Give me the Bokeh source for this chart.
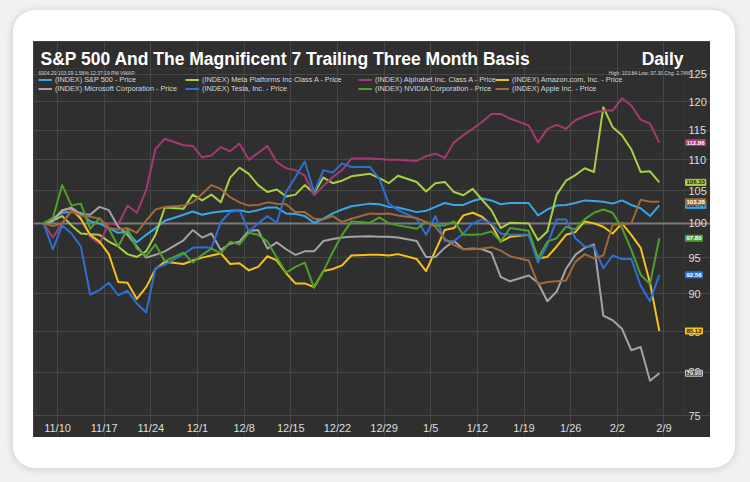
import numpy as np
from bokeh.plotting import figure
from bokeh.models import (Range1d, FixedTicker, Legend, LegendItem, Label, LabelSet,
                          ColumnDataSource, Grid, BoxAnnotation)
from bokeh.core.properties import value
from bokeh.layouts import column
from bokeh.embed import file_html
from bokeh.resources import INLINE

# ---------------- data ----------------
dates = [
    "2025-11-07",
    "2025-11-10", "2025-11-11", "2025-11-12", "2025-11-13", "2025-11-14",
    "2025-11-17", "2025-11-18", "2025-11-19", "2025-11-20", "2025-11-21",
    "2025-11-24", "2025-11-25", "2025-11-26", "2025-11-28",
    "2025-12-01", "2025-12-02", "2025-12-03", "2025-12-04", "2025-12-05",
    "2025-12-08", "2025-12-09", "2025-12-10", "2025-12-11", "2025-12-12",
    "2025-12-15", "2025-12-16", "2025-12-17", "2025-12-18", "2025-12-19",
    "2025-12-22", "2025-12-23", "2025-12-24", "2025-12-26",
    "2025-12-29", "2025-12-30", "2025-12-31", "2026-01-02",
    "2026-01-05", "2026-01-06", "2026-01-07", "2026-01-08", "2026-01-09",
    "2026-01-12", "2026-01-13", "2026-01-14", "2026-01-15", "2026-01-16",
    "2026-01-20", "2026-01-21", "2026-01-22", "2026-01-23",
    "2026-01-26", "2026-01-27", "2026-01-28", "2026-01-29", "2026-01-30",
    "2026-02-02", "2026-02-03", "2026-02-04", "2026-02-05", "2026-02-06",
    "2026-02-09",
]

sp500 = [100.0, 100.8, 101.6, 101.7, 101.6, 100.3, 100.0, 99.3, 98.6, 98.7, 97.2, 98.3, 99.3, 100.4,
         101.3, 101.8, 101.3, 101.6, 101.8, 101.9, 102.0, 101.7, 102.0, 102.4, 102.4, 101.5, 101.4, 101.1,
         100.1, 100.7, 101.5, 102.1, 102.6,
         103.0, 102.9, 102.5, 102.4,
         101.7, 101.9, 102.5, 103.1, 102.8, 102.8, 103.4, 103.8, 103.5, 102.9, 103.1,
         103.1, 101.2, 102.1, 102.7, 102.8, 103.1, 103.5, 103.4, 103.3, 103.0, 103.5, 102.8, 102.3, 101.1, 102.74]

meta = [100.0, 100.4, 101.1, 99.7, 98.5, 98.4, 98.3, 97.3, 96.6, 95.5, 95.1, 95.9, 98.3, 102.4,
        102.2, 104.4, 103.5, 104.4, 103.2, 107.1, 108.7, 107.7, 105.9, 104.8, 105.2, 104.1, 104.4, 105.9,
        104.6, 107.1, 106.2, 106.6, 107.3,
        107.7, 107.0, 106.2, 107.4,
        106.4, 104.9, 106.2, 106.4, 104.8, 104.3, 105.3, 103.6, 102.0, 99.3, 100.1,
        100.0, 97.5, 98.8, 104.4, 106.6, 107.5, 108.6, 108.0, 119.0, 115.5, 114.1, 111.7, 108.0, 108.1, 106.33]

alphabet = [100.0, 97.9, 100.0, 102.0, 100.7, 98.0, 97.0, 100.0, 99.8, 102.7, 101.6, 105.1, 111.8, 113.5,
            112.4, 112.3, 110.4, 110.7, 112.1, 111.4, 112.7, 110.0, 111.1, 112.3, 109.6, 108.6, 108.3, 107.4,
            104.3, 105.8, 107.2, 108.3, 110.2,
            110.2, 110.1, 110.0, 110.0,
            109.8, 110.6, 111.0, 110.3, 112.9, 114.1, 115.2, 116.4, 117.8, 117.8, 117.0,
            115.8, 112.9, 115.2, 115.9, 115.2, 116.7, 117.4, 118.0, 118.4, 118.4, 120.6, 119.3, 116.8, 116.1, 112.86]

amazon = [100.0, 100.4, 102.0, 102.3, 100.7, 98.3, 97.3, 95.5, 91.6, 91.5, 89.3, 90.9, 93.4, 94.4,
          94.1, 94.6, 95.0, 95.3, 95.6, 94.1, 94.2, 93.2, 93.7, 95.2, 94.6, 92.8, 91.4, 91.4,
          90.9, 93.1, 93.4, 93.9, 95.3,
          95.4, 95.4, 95.3, 95.5,
          94.8, 93.1, 96.0, 99.0, 99.3, 101.2, 101.6, 101.0, 99.8, 97.3, 98.0,
          98.3, 94.9, 95.1, 96.6, 98.3, 98.7, 100.3, 100.0, 99.5, 98.5, 100.0, 98.3, 96.4, 91.5, 85.12]

microsoft = [100.0, 100.3, 101.9, 102.4, 101.4, 101.3, 102.5, 102.0, 99.5, 98.3, 96.6, 95.0, 95.4, 95.9,
             97.5, 99.0, 97.9, 98.5, 96.1, 97.0, 97.3, 98.9, 99.0, 96.3, 97.2, 96.2, 95.4, 95.9,
             95.9, 97.4, 97.7, 97.9, 98.0,
             98.1, 98.0, 98.0, 97.9,
             97.4, 95.1, 95.1, 96.4, 97.4, 96.2, 96.3, 96.2, 95.7, 92.3, 91.7,
             92.5, 91.5, 89.0, 90.3, 93.4, 95.4, 96.4, 96.9, 87.1, 86.5, 85.4, 82.7, 83.1, 79.0, 79.90]

tesla = [100.0, 96.2, 99.7, 98.5, 96.6, 89.9, 90.5, 91.5, 89.8, 90.4, 88.7, 87.5, 93.5, 94.0,
         95.5, 96.4, 96.5, 96.4, 100.2, 101.7, 102.0, 98.8, 100.0, 101.1, 100.1, 104.8, 107.2, 109.7,
         104.8, 108.3, 107.9, 109.4, 108.8,
         108.8, 106.9, 103.0, 102.0,
         100.7, 98.3, 101.1, 97.4, 97.4, 98.5, 100.0, 100.6, 100.0, 98.5, 98.3,
         98.3, 94.3, 96.8, 100.6, 100.6, 97.8, 96.6, 96.6, 93.5, 95.3, 94.8, 94.8, 91.1, 89.0, 92.58]

nvidia = [100.0, 100.8, 105.9, 102.7, 103.0, 99.2, 100.8, 99.2, 96.6, 99.2, 96.3, 95.2, 96.9, 94.5,
          95.7, 94.3, 95.4, 96.3, 95.6, 97.3, 96.9, 98.6, 98.3, 97.3, 95.0, 92.9, 93.7, 94.3,
          90.8, 93.1, 95.8, 98.3, 100.3,
          100.1, 100.9, 100.0, 99.7,
          99.2, 100.2, 99.7, 99.7, 100.3, 98.3, 98.3, 98.4, 98.8, 97.3, 99.3,
          98.9, 94.9, 97.3, 97.8, 99.5, 99.1, 100.6, 101.6, 102.1, 101.6, 99.3, 96.1, 92.6, 91.3, 97.80]

apple = [100.0, 99.6, 100.0, 101.9, 101.2, 101.0, 100.7, 99.3, 99.1, 99.3, 98.6, 100.4, 102.1, 102.5,
         102.7, 103.2, 104.5, 105.9, 105.3, 104.0, 103.2, 102.7, 102.8, 103.2, 103.0, 102.9, 101.7, 101.7,
         100.7, 100.6, 101.1, 100.2, 100.7,
         101.5, 101.4, 101.5, 101.2,
         100.8, 100.2, 99.5, 97.7, 96.8, 96.2, 96.2, 96.3, 96.5, 96.0, 95.2,
         94.6, 91.3, 91.6, 91.7, 91.8, 94.4, 95.5, 94.9, 95.3, 99.8, 99.9, 100.0, 103.6, 103.3, 103.28]

series_names = [
    "(INDEX) S&P 500 - Price",
    "(INDEX) Meta Platforms Inc Class A - Price",
    "(INDEX) Alphabet Inc. Class A - Price",
    "(INDEX) Amazon.com, Inc. - Price",
    "(INDEX) Microsoft Corporation - Price",
    "(INDEX) Tesla, Inc. - Price",
    "(INDEX) NVIDIA Corporation - Price",
    "(INDEX) Apple Inc. - Price",
]
series_values = [sp500, meta, alphabet, amazon, microsoft, tesla, nvidia, apple]

tick_dates = ["2025-11-10", "2025-11-17", "2025-11-24", "2025-12-01", "2025-12-08", "2025-12-15",
              "2025-12-22", "2025-12-29", "2026-01-05", "2026-01-12", "2026-01-19", "2026-01-26",
              "2026-02-02", "2026-02-09"]
tick_labels = ["11/10", "11/17", "11/24", "12/1", "12/8", "12/15", "12/22", "12/29", "1/5",
               "1/12", "1/19", "1/26", "2/2", "2/9"]
y_ticks = [75, 80, 85, 90, 95, 100, 105, 110, 115, 120, 125]
base_level = 100

title_text = "S&P 500 And The Magnificent 7 Trailing Three Month Basis"
period_text = "Daily"
info_left = "6904.29 103.09 1.58% 12:37:19 PM VWAP:"
info_right = "High: 103.84 Low: 97.30 Chg: 2.74%"

# ---------------- styles ----------------
colors = ["#3aa6e6", "#a8cf45", "#a53a72", "#f2c21b", "#a3a3a3", "#2e6fd3", "#4f9f2b", "#9c6a3c"]
tag_text_colors = ["#10243a", "#1d2a08", "#ffffff", "#2a2200", "#eeeeee", "#ffffff", "#ffffff", "#ffffff"]
tag_fill_colors = ["#3aa6e6", "#a8cf45", "#a53a72", "#f2c21b", "#474747", "#2e6fd3", "#4f9f2b", "#9c6a3c"]
FONT = "Liberation Sans"
BG = "#2f2f2f"
GRID = "#474747"

W, H = 677, 396                      # chart panel
PAD_L, PAD_R, PAD_T, PAD_B = 2, 26, 27, 22   # plot area inset inside the panel

# weekday-slot x axis (weekends removed, holidays keep their slot)
d0 = np.datetime64(dates[0])
x = np.busday_count(d0, np.array(dates, dtype="datetime64[D]")).astype(float)
tick_pos = (np.busday_count(d0, np.array(tick_dates, dtype="datetime64[D]")) + 0.5).astype(float).tolist()

# plot-area bounds in data units
X_LO, X_HI = x[0] - 0.86, x[-1] + 2.7
Y_LO, Y_HI = 75.0, 126.1
upp = (X_HI - X_LO) / (W - PAD_L - PAD_R)
lpp = np.log(Y_HI / Y_LO) / (H - PAD_T - PAD_B)
x_range = Range1d(X_LO - PAD_L * upp, X_HI + PAD_R * upp)
y_range = Range1d(Y_LO * np.exp(-PAD_B * lpp), Y_HI * np.exp(PAD_T * lpp))

p = figure(width=W, height=H, output_backend="svg", toolbar_location=None,
           y_axis_type="log", x_axis_location=None, y_axis_location=None,
           x_range=x_range, y_range=y_range, title_location=None, min_border=0)
p.background_fill_color = BG
p.border_fill_color = BG
p.outline_line_color = None

# grids limited to the plot area
p.xgrid.ticker = FixedTicker(ticks=tick_pos)
p.xgrid.bounds = (Y_LO, Y_HI)
p.xgrid.grid_line_color = GRID
p.ygrid.ticker = FixedTicker(ticks=y_ticks)
p.ygrid.bounds = (X_LO, X_HI)
p.ygrid.grid_line_color = GRID
p.add_layout(Grid(dimension=1, ticker=FixedTicker(ticks=[base_level]), bounds=(X_LO, X_HI),
                  grid_line_color="#7c7c7c", grid_line_width=2))
p.add_layout(BoxAnnotation(left=X_LO, right=X_HI, bottom=Y_LO, top=Y_HI,
                           fill_alpha=0, line_color="#4a4a4a", line_width=1, level="underlay"))

# tick labels
xlab = ColumnDataSource(dict(x=tick_pos, y=[Y_LO] * len(tick_pos), t=tick_labels))
p.add_layout(LabelSet(x="x", y="y", text="t", source=xlab, y_offset=-6,
                      text_align="center", text_baseline="top", text_font=value(FONT),
                      text_font_size="11px", text_color="#dedede"))
ylab = ColumnDataSource(dict(x=[X_HI] * len(y_ticks), y=y_ticks, t=[str(v) for v in y_ticks]))
p.add_layout(LabelSet(x="x", y="y", text="t", source=ylab, x_offset=4,
                      text_align="left", text_baseline="middle", text_font=value(FONT),
                      text_font_size="11px", text_color="#dedede"))

renderers = []
for vals, col in zip(series_values, colors):
    r = p.line(x, vals, line_color=col, line_width=2, line_join="round")
    renderers.append(r)

# legend: 4 columns of 2 rows; location = bottom-left corner, y upward
legend_cols_x = [5, 152, 325, 462]
for c, lx in enumerate(legend_cols_x):
    items = [LegendItem(label=series_names[c], renderers=[renderers[c]]),
             LegendItem(label=series_names[c + 4], renderers=[renderers[c + 4]])]
    lg = Legend(items=items, location=(lx, 344.5), orientation="vertical",
                padding=0, margin=0, spacing=0,
                label_text_font=FONT, label_text_font_size="7.3px", label_text_color="#d6d6d6",
                label_height=9, glyph_height=9, glyph_width=14, label_standoff=3,
                background_fill_alpha=0, border_line_alpha=0)
    p.add_layout(lg)

# title texts (screen units, y upward from the panel bottom)
p.add_layout(Label(x=7, y=379, x_units="screen", y_units="screen", text=title_text,
                   text_font=FONT, text_font_size="17.5px", text_font_style="bold",
                   text_color="#ffffff", text_baseline="alphabetic"))
p.add_layout(Label(x=650, y=379, x_units="screen", y_units="screen", text=period_text,
                   text_font=FONT, text_font_size="17.5px", text_font_style="bold",
                   text_color="#ffffff", text_baseline="alphabetic", text_align="right"))
p.add_layout(Label(x=5, y=365, x_units="screen", y_units="screen", text=info_left,
                   text_font=FONT, text_font_size="5px", text_color="#cfcfcf",
                   text_baseline="middle"))
p.add_layout(Label(x=657, y=365, x_units="screen", y_units="screen", text=info_right,
                   text_font=FONT, text_font_size="5px", text_color="#cfcfcf",
                   text_baseline="middle", text_align="right"))

# last-value tags (drawn over the y tick labels, as in the source chart)
for vals, fc, tc in zip(series_values, tag_fill_colors, tag_text_colors):
    last = vals[-1]
    p.add_layout(Label(x=X_HI, y=last, text=f"{last:.2f}", x_offset=1,
                       text_font=FONT, text_font_size="6px", text_font_style="bold",
                       text_color=tc, text_baseline="middle", text_align="left",
                       background_fill_color=fc,
                       border_line_color="#c8c8c8" if fc == "#474747" else fc,
                       padding=1))

p.margin = (31, 25, 31, 20)
p.styles = {"outline": "2px solid #575757", "outline-offset": "-2px"}

card = column(p, width=722, height=458, margin=(10, 15, 14, 13),
              styles={"background-color": "#ffffff", "border-radius": "22px",
                      "box-shadow": "0 1px 9px rgba(0,0,0,0.16)"})
page = column(card, width=750, height=482, styles={"background-color": "#f1f1f1"})

open("out.html", "w").write(file_html(page, INLINE))
